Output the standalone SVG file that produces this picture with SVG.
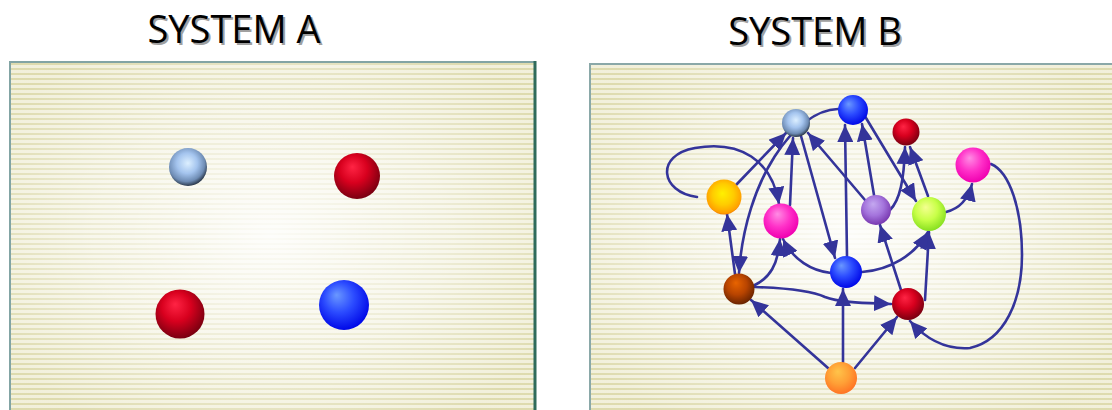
<svg xmlns="http://www.w3.org/2000/svg" width="1112" height="410" viewBox="0 0 1112 410">
<style>
.title{font-family:"Open Sans","Liberation Sans",sans-serif;font-size:38px;fill:#000}
.shadow{font-family:"Open Sans","Liberation Sans",sans-serif;font-size:38px;fill:#a0a0a0}
.edge{fill:none;stroke:#34349a;stroke-width:2.6;stroke-linecap:round;marker-end:url(#arrow)}
</style>
<defs>
<pattern id="stripes" width="8" height="5" patternUnits="userSpaceOnUse">
<rect width="8" height="5" fill="#f1efd9"/>
<rect y="3" width="8" height="2" fill="#dcd9aa"/>
</pattern>
<radialGradient id="glowA" cx="270" cy="235" r="320" gradientUnits="userSpaceOnUse" gradientTransform="translate(270 235) scale(1 0.7) translate(-270 -235)">
<stop offset="0" stop-color="#ffffff" stop-opacity="0.9"/>
<stop offset="0.55" stop-color="#ffffff" stop-opacity="0.5"/>
<stop offset="1" stop-color="#ffffff" stop-opacity="0.05"/>
</radialGradient>
<radialGradient id="glowB" cx="850" cy="235" r="320" gradientUnits="userSpaceOnUse" gradientTransform="translate(850 235) scale(1 0.7) translate(-850 -235)">
<stop offset="0" stop-color="#ffffff" stop-opacity="0.9"/>
<stop offset="0.55" stop-color="#ffffff" stop-opacity="0.5"/>
<stop offset="1" stop-color="#ffffff" stop-opacity="0.05"/>
</radialGradient>
<radialGradient id="gSteel" cx="0.45" cy="0.4" r="0.6" fx="0.5" fy="0.4">
<stop offset="0" stop-color="#dcefff"/>
<stop offset="0.45" stop-color="#a4c4ee"/>
<stop offset="0.8" stop-color="#6e8cb4"/>
<stop offset="1" stop-color="#2c3a4c"/>
</radialGradient>
<radialGradient id="gRed" cx="0.45" cy="0.4" r="0.6" fx="0.4" fy="0.3">
<stop offset="0" stop-color="#ff2444"/>
<stop offset="0.5" stop-color="#d8001e"/>
<stop offset="1" stop-color="#7a0010"/>
</radialGradient>
<radialGradient id="gBlue" cx="0.45" cy="0.4" r="0.6" fx="0.35" fy="0.3">
<stop offset="0" stop-color="#6a98ff"/>
<stop offset="0.5" stop-color="#2c4cff"/>
<stop offset="1" stop-color="#0008e8"/>
</radialGradient>
<radialGradient id="gYellow" cx="0.5" cy="0.45" r="0.6" fx="0.45" fy="0.4">
<stop offset="0" stop-color="#fff000"/>
<stop offset="0.5" stop-color="#ffcc00"/>
<stop offset="0.85" stop-color="#ffa000"/>
<stop offset="1" stop-color="#e05a00"/>
</radialGradient>
<radialGradient id="gMagenta" cx="0.45" cy="0.4" r="0.6" fx="0.4" fy="0.3">
<stop offset="0" stop-color="#ff8ce4"/>
<stop offset="0.55" stop-color="#ff30c8"/>
<stop offset="1" stop-color="#f000b0"/>
</radialGradient>
<radialGradient id="gPurple" cx="0.45" cy="0.4" r="0.6" fx="0.4" fy="0.3">
<stop offset="0" stop-color="#c4a8f0"/>
<stop offset="0.55" stop-color="#a474dc"/>
<stop offset="1" stop-color="#7838b0"/>
</radialGradient>
<radialGradient id="gLime" cx="0.45" cy="0.4" r="0.6" fx="0.4" fy="0.3">
<stop offset="0" stop-color="#f4ff90"/>
<stop offset="0.55" stop-color="#c8ff48"/>
<stop offset="1" stop-color="#88e020"/>
</radialGradient>
<radialGradient id="gBrown" cx="0.45" cy="0.4" r="0.6" fx="0.4" fy="0.3">
<stop offset="0" stop-color="#e86400"/>
<stop offset="0.55" stop-color="#b84400"/>
<stop offset="1" stop-color="#6a2400"/>
</radialGradient>
<radialGradient id="gOrange" cx="0.45" cy="0.4" r="0.6" fx="0.4" fy="0.3">
<stop offset="0" stop-color="#ffc44a"/>
<stop offset="0.55" stop-color="#ffa036"/>
<stop offset="1" stop-color="#ff7424"/>
</radialGradient>
<marker id="arrow" markerUnits="userSpaceOnUse" markerWidth="18" markerHeight="16" refX="17" refY="8" orient="auto">
<path d="M0,0 L17,8 L0,16 z" fill="#34349a"/>
</marker>
</defs>

<rect width="1112" height="410" fill="#ffffff"/>

<g id="panelA">
<rect x="10" y="62" width="525" height="350" fill="url(#stripes)"/>
<rect x="10" y="62" width="525" height="350" fill="url(#glowA)"/>
<path d="M10,412 L10,62 L535,62" fill="none" stroke="#82a4a4" stroke-width="2"/>
<line x1="535" y1="61" x2="535" y2="412" stroke="#2f6b5b" stroke-width="3"/>
</g>
<g id="panelB">
<rect x="590" y="64" width="524" height="350" fill="url(#stripes)"/>
<rect x="590" y="64" width="524" height="350" fill="url(#glowB)"/>
<path d="M590,412 L590,64 L1114,64" fill="none" stroke="#8aa8a8" stroke-width="2"/>
</g>

<g id="titleA">
<text class="shadow" x="236" y="45" text-anchor="middle">SYSTEM A</text>
<text class="title" x="234" y="43" text-anchor="middle">SYSTEM A</text>
</g>
<g id="titleB">
<text class="shadow" x="817" y="47" text-anchor="middle">SYSTEM B</text>
<text class="title" x="815" y="45" text-anchor="middle">SYSTEM B</text>
</g>

<g id="a-steel"><circle cx="188" cy="167" r="19" fill="url(#gSteel)"/></g>
<g id="a-red1"><circle cx="357" cy="176" r="23" fill="url(#gRed)"/></g>
<g id="a-red2"><circle cx="180" cy="314" r="24.5" fill="url(#gRed)"/></g>
<g id="a-blue"><circle cx="344" cy="305" r="25" fill="url(#gBlue)"/></g>

<g id="connectors">
<path class="edge" d="M736,185 L786,133"/>
<path class="edge" d="M697,197 C660,192 655,155 695,148 C740,140 772,160 779,204"/>
<path class="edge" d="M790,205 L793,138"/>
<path class="edge" d="M801,136 L835,258"/>
<path class="edge" d="M838,109 C795,110 745,180 739,273"/>
<path class="edge" d="M735,274 L727,214"/>
<path class="edge" d="M865,200 L808,133"/>
<path class="edge" d="M847,256 L845,125"/>
<path class="edge" d="M874,195 L862,124"/>
<path class="edge" d="M863,113 L916,201"/>
<path class="edge" d="M890,210 C900,200 904,180 905,147"/>
<path class="edge" d="M928,196 L910,147"/>
<path class="edge" d="M946,212 C958,209 968,200 972,184"/>
<path class="edge" d="M991,164 C1010,172 1022,210 1022,255 C1022,300 1005,340 970,348 C945,350 925,338 910,321"/>
<path class="edge" d="M925,300 L929,232"/>
<path class="edge" d="M862,272 C890,270 915,255 928,232"/>
<path class="edge" d="M901,290 L880,225"/>
<path class="edge" d="M831,273 C812,271 793,260 783,239"/>
<path class="edge" d="M753,286 C770,278 778,265 780,239"/>
<path class="edge" d="M755,287 C785,288 810,290 825,297 C840,303 870,303 891,304"/>
<path class="edge" d="M828,368 L751,300"/>
<path class="edge" d="M843,362 L843,289"/>
<path class="edge" d="M855,368 L897,317"/>
</g>

<g id="b-lightblue"><circle cx="796" cy="123" r="14" fill="url(#gSteel)"/></g>
<g id="b-bluetop"><circle cx="853" cy="110" r="15" fill="url(#gBlue)"/></g>
<g id="b-yellow"><circle cx="724" cy="197" r="17.5" fill="url(#gYellow)"/></g>
<g id="b-magenta"><circle cx="781" cy="221" r="17.5" fill="url(#gMagenta)"/></g>
<g id="b-purple"><circle cx="876" cy="210" r="15" fill="url(#gPurple)"/></g>
<g id="b-darkred"><circle cx="906" cy="132" r="13.5" fill="url(#gRed)"/></g>
<g id="b-pink"><circle cx="973" cy="165" r="17.5" fill="url(#gMagenta)"/></g>
<g id="b-lime"><circle cx="929" cy="214" r="17" fill="url(#gLime)"/></g>
<g id="b-bluemid"><circle cx="846" cy="272" r="16" fill="url(#gBlue)"/></g>
<g id="b-brown"><circle cx="739" cy="289" r="15.5" fill="url(#gBrown)"/></g>
<g id="b-redbottom"><circle cx="908" cy="304" r="16" fill="url(#gRed)"/></g>
<g id="b-orange"><circle cx="841" cy="378" r="16" fill="url(#gOrange)"/></g>
</svg>
